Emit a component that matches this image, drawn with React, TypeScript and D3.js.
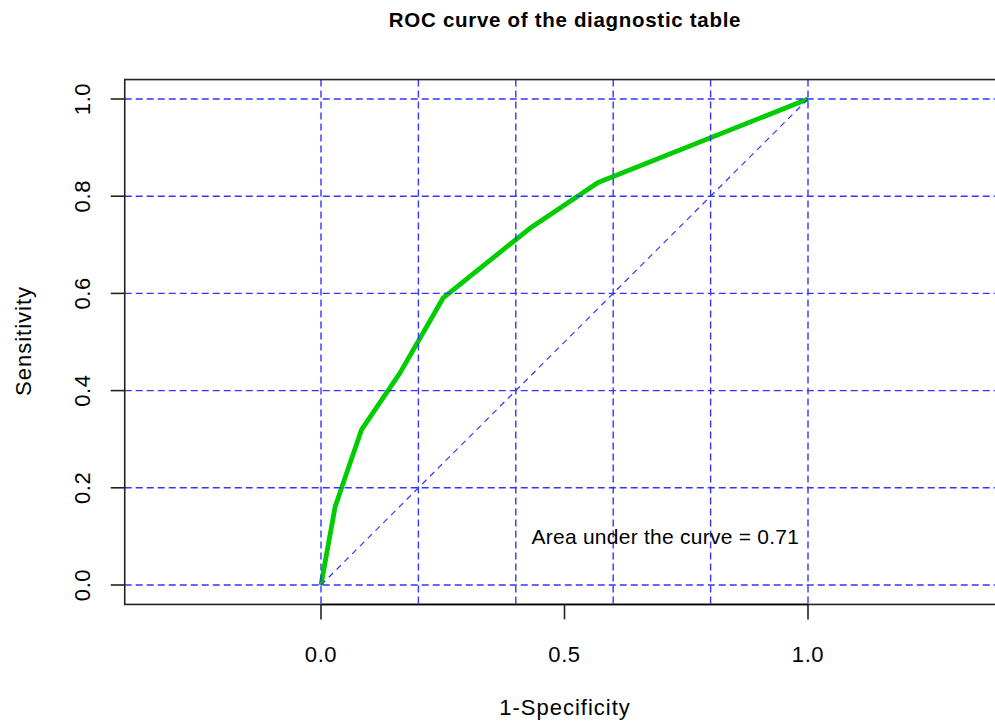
import React from "react";
import * as d3 from "d3";

const fpr = [0, 0.029, 0.083, 0.162, 0.251, 0.429, 0.569, 1];
const tpr = [0, 0.161, 0.319, 0.436, 0.591, 0.734, 0.828, 1];
const gridTicks = [0, 0.2, 0.4, 0.6, 0.8, 1.0];
const xAxisTicks = [0, 0.5, 1.0];
const yAxisTicks = [0, 0.2, 0.4, 0.6, 0.8, 1.0];
const xLim = [-0.403, 1.403];
const yLim = [-0.04, 1.04];
const aucValue = 0.71;
const aucLabelPos = [0.707, 0.1];
const titleText = "ROC curve of the diagnostic table";
const xLabel = "1-Specificity";
const yLabel = "Sensitivity";

export default function App() {
  const W = 995, H = 725;
  const x = d3.scaleLinear().domain([0, 1]).range([321, 808]);
  const y = d3.scaleLinear().domain([0, 1]).range([585, 99]);
  const bx0 = x(xLim[0]), bx1 = x(xLim[1]);
  const by0 = y(yLim[0]), by1 = y(yLim[1]);
  const pts: [number, number][] = fpr.map((f, i) => [f, tpr[i]]);
  const line = d3.line<[number, number]>().x(d => x(d[0])).y(d => y(d[1]));
  const grid = "#3535ff";
  const font = "'Liberation Sans', Arial, Helvetica, sans-serif";
  return (
    <svg width={W} height={H} style={{ position: "fixed", left: 0, top: 0, background: "#fff" }} fontFamily={font}>
      <rect x={0} y={0} width={W} height={H} fill="#fff" />
      <text x={565} y={27} textAnchor="middle" fontWeight="bold" fontSize={20.5} letterSpacing={0.7} fill="#000">{titleText}</text>
      {/* ROC curve */}
      <path d={line(pts) || ""} fill="none" stroke="#00cd00" strokeWidth={4.8} strokeLinejoin="round" />
      {/* grid */}
      {gridTicks.map(t => (
        <line key={"v" + t} x1={x(t)} x2={x(t)} y1={by1} y2={by0} stroke={grid} strokeWidth={1.4} strokeDasharray="7,4" />
      ))}
      {gridTicks.map(t => (
        <line key={"h" + t} x1={bx0} x2={bx1} y1={y(t)} y2={y(t)} stroke={grid} strokeWidth={1.4} strokeDasharray="7,4" />
      ))}
      {/* diagonal */}
      <line x1={x(0)} y1={y(0)} x2={x(1)} y2={y(1)} stroke={grid} strokeWidth={1.2} strokeDasharray="6,5" />
      {/* box */}
      <rect x={bx0} y={by1} width={bx1 - bx0} height={by0 - by1} fill="none" stroke="#222" strokeWidth={1.6} />
      {/* x axis */}
      <line x1={x(0)} x2={x(1)} y1={by0} y2={by0} stroke="#000" strokeWidth={1.6} />
      {xAxisTicks.map(t => (
        <g key={"xt" + t}>
          <line x1={x(t)} x2={x(t)} y1={by0} y2={by0 + 15} stroke="#222" strokeWidth={1.6} />
          <text x={x(t)} y={662} textAnchor="middle" fontSize={22} letterSpacing={0.6} fill="#000">{t.toFixed(1)}</text>
        </g>
      ))}
      {/* y axis */}
      {yAxisTicks.map(t => (
        <g key={"yt" + t}>
          <line x1={bx0} x2={bx0 - 14} y1={y(t)} y2={y(t)} stroke="#222" strokeWidth={1.6} />
          <text transform={`translate(90,${y(t)}) rotate(-90)`} textAnchor="middle" fontSize={22} letterSpacing={0.6} fill="#000">{t.toFixed(1)}</text>
        </g>
      ))}
      <text x={565} y={715} textAnchor="middle" fontSize={22} letterSpacing={1} fill="#000">{xLabel}</text>
      <text transform={`translate(31,341) rotate(-90)`} textAnchor="middle" fontSize={22} letterSpacing={1} fill="#000">{yLabel}</text>
      <text x={x(aucLabelPos[0])} y={y(aucLabelPos[1])} dy="0.35em" textAnchor="middle" fontSize={21} letterSpacing={0.25} fill="#000">{`Area under the curve = ${aucValue}`}</text>
    </svg>
  );
}
